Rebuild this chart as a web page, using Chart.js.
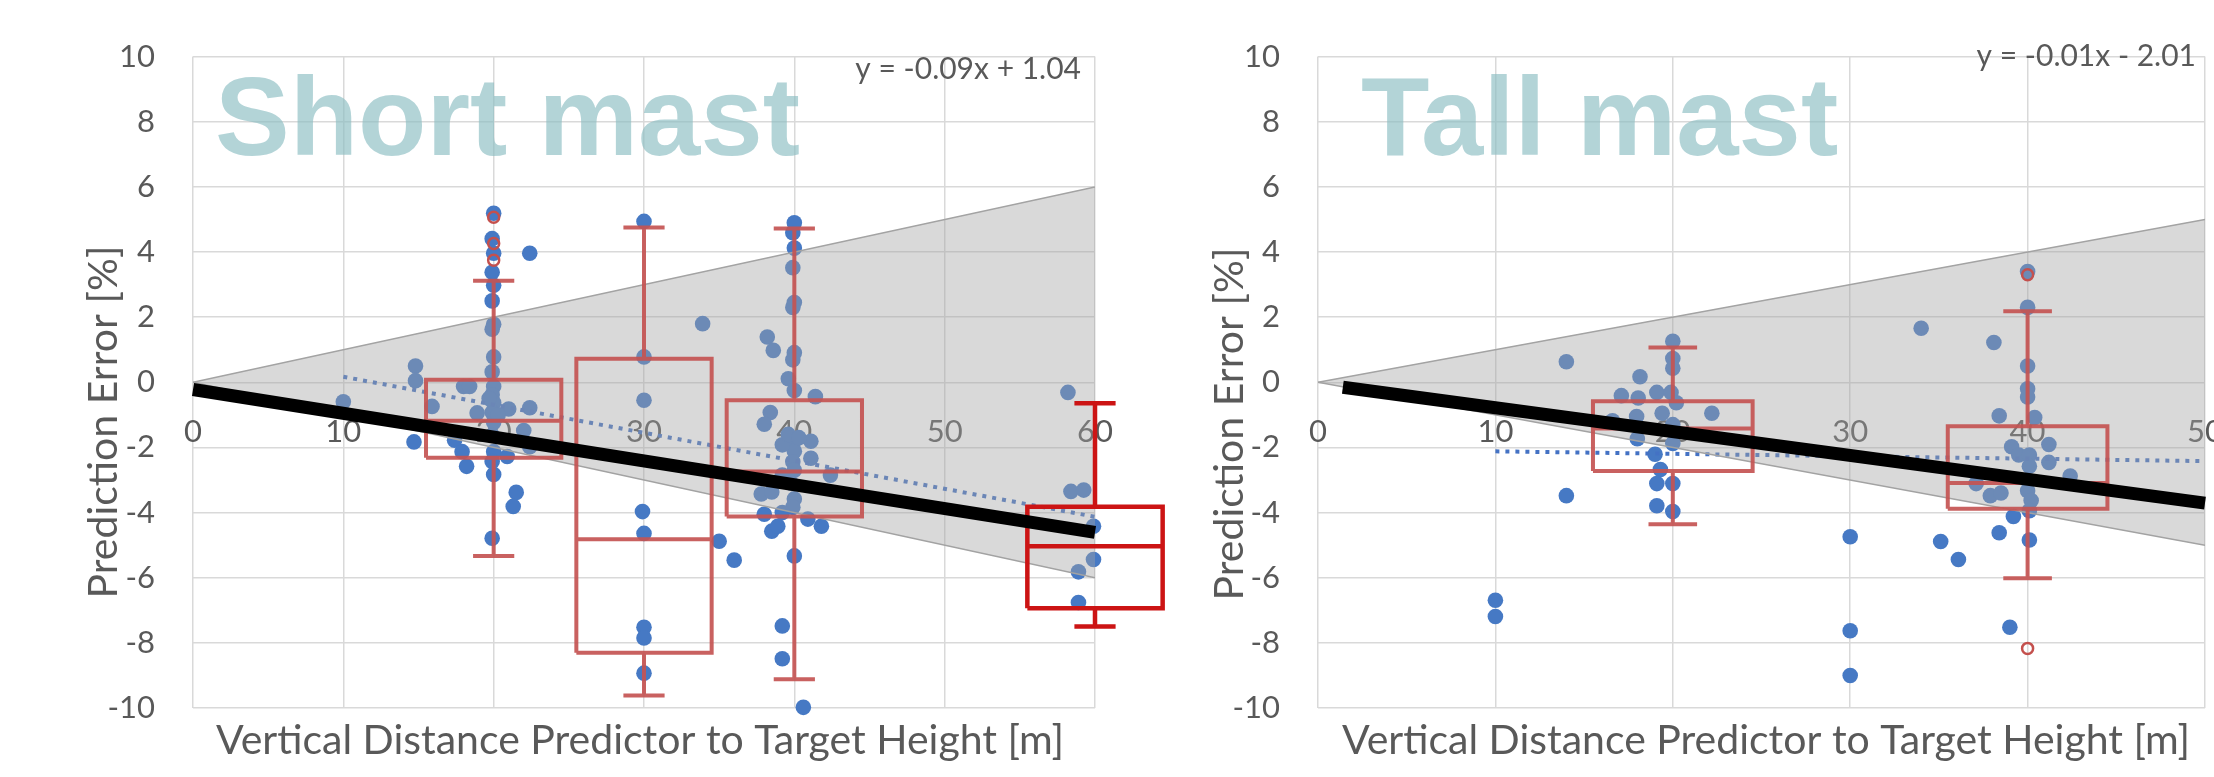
<!DOCTYPE html>
<html><head><meta charset="utf-8">
<script src="https://cdn.jsdelivr.net/npm/chart.js@4.4.1/dist/chart.umd.min.js"></script>
<style>
html,body{margin:0;padding:0;background:#fff;}
#wrap{position:relative;width:2214px;height:777px;overflow:hidden;background:#fff;}
canvas{position:absolute;top:0;}
</style></head><body>
<div id="wrap">
<canvas id="c1" width="1200" height="777" style="left:0;width:1200px;height:777px"></canvas>
<canvas id="c2" width="1014" height="777" style="left:1200px;width:1014px;height:777px"></canvas>
</div>
<script>
// ---------- tick labels ----------
const yTicks = [-10, -8, -6, -4, -2, 0, 2, 4, 6, 8, 10];
const shortXTicks = [0, 10, 20, 30, 40, 50, 60];
const tallXTicks = [0, 10, 20, 30, 40, 50];

// ---------- Short mast: individual prediction errors ----------
const shortX = [
  10, 14.8, 14.8, 15.9, 14.7, 17.4, 17.9, 18.2, 18.0, 18.4, 18.9, 21.0, 22.4, 22.4, 22.0, 20.9, 21.5, 21.3, 22.4,
  20.0, 19.9, 20.0, 19.9, 20.0, 19.9, 20.0, 19.9, 20.0, 19.9, 20.0, 19.9, 20.0, 19.9, 20.0, 19.9, 20.0, 19.9, 20.0, 19.9, 19.7, 20.3,
  30, 33.9, 30, 30, 29.9, 30, 30, 30, 30, 35.0, 36.0,
  40.0, 39.9, 40.0, 39.9, 40.0, 39.9, 40.0, 39.9, 40.0, 39.9, 40.0, 39.9, 40.0, 39.9, 40.0,
  38.2, 38.6, 39.6, 41.4, 38.4, 38.0, 39.2, 41.1, 41.1, 42.4, 39.2, 37.8, 38.5, 38.0, 39.2, 38.5, 38.9, 40.9, 41.8, 39.2, 39.2, 40.6, 39.6, 40.3, 40.0, 39.8,
  58.2, 58.4, 59.25, 59.9, 59.9, 58.9, 58.9
];
const shortY = [
  -0.6, 0.5, 0.05, -0.74, -1.83, -1.78, -2.13, -2.58, -0.13, -0.13, -0.94, -0.82, -0.78, 3.96, -1.48, -2.28, -3.38, -3.81, -1.98,
  5.19, 4.41, 3.96, 3.38, 2.98, 2.5, 1.78, 1.63, 0.78, 0.32, -0.13, -0.38, -0.63, -0.93, -1.23, -1.63, -2.13, -2.43, -2.83, -4.79, -0.5, -1.0,
  4.94, 1.8, 0.78, -0.55, -3.97, -4.64, -7.52, -7.85, -8.93, -4.88, -5.46,
  4.9, 4.59, 4.12, 3.52, 2.45, 2.3, 0.91, 0.69, -0.25, -1.92, -2.12, -2.44, -3.58, -3.84, -5.33,
  1.39, 0.98, 0.11, -0.44, -0.93, -1.29, -1.92, -1.81, -2.33, -2.85, -2.85, -3.43, -3.37, -4.05, -4.0, -4.57, -4.42, -4.2, -4.42, -7.48, -8.49, -9.98, -1.6, -1.7, -2.7, -3.1,
  -0.31, -3.35, -3.31, -4.42, -5.44, -5.82, -6.76
];

// Short mast box plots
const shortBoxX   = [20, 30, 40, 60];
const shortBoxLo  = [-5.33, -9.62, -9.12, -7.5];
const shortBoxQ1  = [-2.32, -8.3, -4.12, -6.94];
const shortBoxMed = [-1.18, -4.82, -2.74, -5.03];
const shortBoxQ3  = [0.08, 0.72, -0.55, -3.82];
const shortBoxHi  = [3.12, 4.75, 4.72, -0.64];
const shortOutX = [20, 20, 20];
const shortOutY = [5.07, 4.26, 3.75];
const shortHighlightX = 60;

// Short mast lines
const shortTrendX = [10, 60];
const shortTrendY = [0.17, -4.13];
const shortRefX = [0, 60];
const shortRefY = [-0.22, -4.61];
const shortBandX = [0, 60];
const shortBandUp = [0, 6];
const shortBandLo = [0, -6];

// ---------- Tall mast ----------
const tallX = [
  10, 10, 14.0, 14.0,
  20, 20, 20, 18.15, 17.1, 18.05, 19.1, 19.9, 20.2, 22.2, 19.4, 17.96, 16.6, 18.0, 20.0, 19.0, 19.3, 19.1, 20.0, 19.1, 20.0, 20.0,
  30, 30, 30,
  34.0, 38.1, 40.0, 40.0, 40.0, 40.0, 40.0, 38.4, 40.4, 39.1, 39.5, 41.2, 41.2, 40.1, 40.1, 42.4, 37.1, 37.9, 38.5, 40.0, 40.2, 40.1, 39.2, 38.4, 40.1, 35.1, 36.1, 39.0
];
const tallY = [
  -6.69, -7.19, 0.63, -3.48,
  1.26, 0.73, 0.43, 0.17, -0.41, -0.48, -0.31, -0.31, -0.63, -0.95, -0.95, -1.05, -1.18, -1.73, -1.88, -2.21, -2.68, -3.11, -3.11, -3.79, -3.97, -1.3,
  -4.74, -7.63, -9.0,
  1.66, 1.22, 3.4, 2.3, 0.5, -0.2, -0.45, -1.03, -1.08, -1.98, -2.23, -1.91, -2.46, -2.23, -2.58, -2.88, -3.11, -3.48, -3.4, -3.33, -3.63, -3.94, -4.12, -4.62, -4.84, -4.89, -5.44, -7.52
];
const tallBoxX   = [20, 40];
const tallBoxLo  = [-4.36, -6.02];
const tallBoxQ1  = [-2.72, -3.88];
const tallBoxMed = [-1.42, -3.09];
const tallBoxQ3  = [-0.58, -1.35];
const tallBoxHi  = [1.07, 2.18];
const tallOutX = [40, 40];
const tallOutY = [3.30, -8.17];

const tallTrendX = [10, 50];
const tallTrendY = [-2.12, -2.42];
const tallRefX = [1.4, 50];
const tallRefY = [-0.15, -3.71];
const tallBandX = [0, 50];
const tallBandUp = [0, 5];
const tallBandLo = [0, -5];

// ---------- helpers ----------
const FONT = 'Lato, "Noto Sans", sans-serif';
const BOX_HALF = 4.5;   // half box width in x units
const CAP_HALF = 1.37;  // half whisker cap width in x units

function zip(xs, ys) { return xs.map((x, i) => ({x: x, y: ys[i]})); }

function boxPath(xs, lo, q1, med, q3, hi, keep) {
  const pts = [];
  const gap = x => pts.push({x: x, y: null});
  xs.forEach((x, i) => {
    if (!keep(x)) return;
    pts.push({x: x - BOX_HALF, y: q1[i]}, {x: x - BOX_HALF, y: q3[i]}, {x: x + BOX_HALF, y: q3[i]},
             {x: x + BOX_HALF, y: q1[i]}, {x: x - BOX_HALF, y: q1[i]}); gap(x);
    pts.push({x: x - BOX_HALF, y: med[i]}, {x: x + BOX_HALF, y: med[i]}); gap(x);
    pts.push({x: x, y: q3[i]}, {x: x, y: hi[i]}); gap(x);
    pts.push({x: x - CAP_HALF, y: hi[i]}, {x: x + CAP_HALF, y: hi[i]}); gap(x);
    pts.push({x: x, y: q1[i]}, {x: x, y: lo[i]}); gap(x);
    pts.push({x: x - CAP_HALF, y: lo[i]}, {x: x + CAP_HALF, y: lo[i]}); gap(x);
  });
  return pts;
}

const textPlugin = {
  id: 'panelText',
  afterDraw(chart, args, o) {
    const ctx = chart.ctx;
    ctx.save();
    ctx.font = 'bold 112px "Liberation Sans", Arial, sans-serif';
    ctx.fillStyle = 'rgba(140,190,195,0.66)';
    ctx.textAlign = 'left';
    ctx.textBaseline = 'alphabetic';
    ctx.fillText(o.big, o.bigX, o.bigY);

    ctx.fillStyle = '#595959';
    ctx.font = '30px ' + FONT;
    ctx.textAlign = 'right';
    ctx.textBaseline = 'middle';
    ctx.fillText(o.eq, o.eqX, o.eqY);

    ctx.font = '41px ' + FONT;
    ctx.textAlign = 'center';
    ctx.fillText(o.xTitle, o.xTitleX, o.xTitleY);

    ctx.translate(o.yTitleX, o.yTitleY);
    ctx.rotate(-Math.PI / 2);
    ctx.fillText(o.yTitle, 0, 0);
    ctx.restore();
  }
};

function panel(el, p) {
  const datasets = [];
  datasets.push({type: 'line', label: 'reference', data: zip(p.refX, p.refY), borderColor: '#000',
    borderWidth: 13, pointRadius: 0, borderCapStyle: 'butt', order: 1, clip: false});
  datasets.push({type: 'line', label: 'box', data: boxPath(p.bx, p.blo, p.bq1, p.bmed, p.bq3, p.bhi, x => x !== p.hlX),
    borderColor: 'rgba(196,84,82,0.92)', borderWidth: 4, pointRadius: 0, borderJoinStyle: 'miter',
    spanGaps: false, order: 2, clip: false});
  if (p.hlX !== undefined) {
    datasets.push({type: 'line', label: 'box highlight', data: boxPath(p.bx, p.blo, p.bq1, p.bmed, p.bq3, p.bhi, x => x === p.hlX),
      borderColor: '#cc1414', borderWidth: 4.5, pointRadius: 0, borderJoinStyle: 'miter',
      spanGaps: false, order: 2, clip: false});
  }
  datasets.push({type: 'scatter', label: 'outliers', data: zip(p.ox, p.oy), pointRadius: 5.5,
    pointBorderWidth: 2.5, pointBorderColor: '#c4504d', pointBackgroundColor: 'rgba(0,0,0,0)', order: 2, clip: false});
  datasets.push({type: 'line', label: 'band upper', data: zip(p.bandX, p.bandUp), fill: '+1',
    backgroundColor: 'rgba(163,163,163,0.41)', borderColor: '#a3a3a3', borderWidth: 1.5, pointRadius: 0, order: 3});
  datasets.push({type: 'line', label: 'band lower', data: zip(p.bandX, p.bandLo), fill: false,
    borderColor: '#a3a3a3', borderWidth: 1.5, pointRadius: 0, order: 3});
  datasets.push({type: 'line', label: 'trend', data: zip(p.trX, p.trY), borderColor: '#4472c4',
    borderWidth: 4, borderDash: [4, 6], pointRadius: 0, order: 4});
  datasets.push({type: 'scatter', label: 'errors', data: zip(p.px, p.py), pointRadius: 7.8,
    pointBorderWidth: 0, pointBackgroundColor: '#4679c4', order: 5, clip: false});

  const gridOpt = {color: '#d9d9d9', lineWidth: 1.5, drawTicks: false};
  const tickFont = {family: FONT, size: 31};
  return new Chart(el, {
    type: 'scatter',
    data: {datasets: datasets},
    plugins: [textPlugin],
    options: {
      responsive: false, animation: false, devicePixelRatio: 1,
      layout: {padding: p.pad},
      plugins: {legend: {display: false}, tooltip: {enabled: false}, panelText: p.text},
      scales: {
        x: {type: 'linear', min: 0, max: p.xMax, position: {y: 0},
          afterBuildTicks: s => { s.ticks = p.xTicks.map(v => ({value: v})); },
          afterFit: s => { s.height = 0; s.paddingLeft = 0; s.paddingRight = 0; },
          grid: gridOpt, border: {display: false},
          ticks: {padding: 31, color: '#595959', font: tickFont, maxRotation: 0, autoSkip: false}},
        y: {type: 'linear', min: -10, max: 10, position: 'left',
          afterBuildTicks: s => { s.ticks = yTicks.map(v => ({value: v})); },
          afterFit: s => { s.width = p.yWidth; },
          grid: gridOpt, border: {display: false},
          ticks: {padding: 38, color: '#595959', font: tickFont}}
      }
    }
  });
}

panel(document.getElementById('c1'), {
  px: shortX, py: shortY, bx: shortBoxX, blo: shortBoxLo, bq1: shortBoxQ1, bmed: shortBoxMed, bq3: shortBoxQ3, bhi: shortBoxHi,
  hlX: shortHighlightX, ox: shortOutX, oy: shortOutY, trX: shortTrendX, trY: shortTrendY, refX: shortRefX, refY: shortRefY,
  bandX: shortBandX, bandUp: shortBandUp, bandLo: shortBandLo, xMax: 60, xTicks: shortXTicks,
  pad: {left: 0, top: 43, right: 105, bottom: 69}, yWidth: 193,
  text: {big: 'Short mast', bigX: 215, bigY: 154.5, eq: 'y = -0.09x + 1.04', eqX: 1081, eqY: 69,
    xTitle: 'Vertical Distance Predictor to Target Height [m]', xTitleX: 640, xTitleY: 741,
    yTitle: 'Prediction Error [%]', yTitleX: 104, yTitleY: 422}
});

panel(document.getElementById('c2'), {
  px: tallX, py: tallY, bx: tallBoxX, blo: tallBoxLo, bq1: tallBoxQ1, bmed: tallBoxMed, bq3: tallBoxQ3, bhi: tallBoxHi,
  hlX: undefined, ox: tallOutX, oy: tallOutY, trX: tallTrendX, trY: tallTrendY, refX: tallRefX, refY: tallRefY,
  bandX: tallBandX, bandUp: tallBandUp, bandLo: tallBandLo, xMax: 50, xTicks: tallXTicks,
  pad: {left: 0, top: 47, right: 9, bottom: 69}, yWidth: 118,
  text: {big: 'Tall mast', bigX: 161, bigY: 154.5, eq: 'y = -0.01x - 2.01', eqX: 996, eqY: 56,
    xTitle: 'Vertical Distance Predictor to Target Height [m]', xTitleX: 566, xTitleY: 741,
    yTitle: 'Prediction Error [%]', yTitleX: 30, yTitleY: 424}
});
</script>
</body></html>
